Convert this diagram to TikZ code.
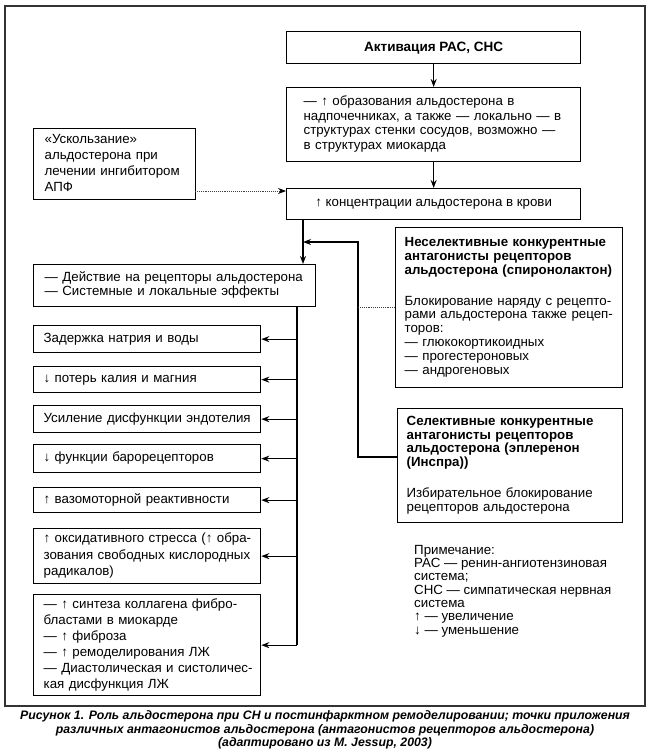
\documentclass[tikz,border=0pt]{standalone}
\usepackage{fontspec}
\setmainfont{Liberation Sans}
\usetikzlibrary{arrows.meta}
\newcommand\tabtext[1]{\begin{tabular}{@{}l@{}}#1\end{tabular}}
\begin{document}
\begin{tikzpicture}[x=1pt,y=-1pt,
  box/.style={draw=black, line width=1.3pt, rectangle, anchor=north west, inner sep=0pt, align=left},
  txt/.style={font=\fontsize{13.3}{14.5}\selectfont},
  ln/.style={line width=1.3pt, black},
  arr/.style={ln, -{Stealth[length=8pt,width=6pt]}},
  dotln/.style={line width=0.9pt, black!75, densely dotted},
  dotarr/.style={dotln, -{Stealth[length=8pt,width=6pt,black]}},
  frame/.style={line width=2pt, black!80}]
\useasboundingbox (0,0) rectangle (650,754);
\draw[frame] (5,6) rectangle (645,706);

\node[box, minimum width=294pt, minimum height=32pt, align=center, font=\fontsize{13.5}{15}\selectfont\bfseries] (act) at (286,31) {Активация РАС, СНС};
\node[box, minimum width=294pt, minimum height=74pt, text width=260pt, txt] (form) at (286,87)
  {\tabtext{— ↑ образования альдостерона в\\надпочечниках, а также — локально — в\\структурах стенки сосудов, возможно —\\в структурах миокарда}};
\node[box, minimum width=294pt, minimum height=31pt, align=center, txt] (conc) at (286,188) {↑ концентрации альдостерона в крови};
\node[box, minimum width=162pt, minimum height=71pt, text width=140pt, font=\fontsize{13.3}{16}\selectfont] (esc) at (33,128)
  {\tabtext{«Ускользание»\\альдостерона при\\лечении ингибитором\\АПФ}};
\node[box, minimum width=282pt, minimum height=42pt, text width=260pt, txt] (eff) at (33,264)
  {\tabtext{— Действие на рецепторы альдостерона\\— Системные и локальные эффекты}};

\node[box, minimum width=227pt, minimum height=27pt, text width=207pt, txt] (b1) at (33,325) {\tabtext{Задержка натрия и воды}};
\node[box, minimum width=227pt, minimum height=26pt, text width=207pt, txt] (b2) at (33,366) {\tabtext{↓ потерь калия и магния}};
\node[box, minimum width=227pt, minimum height=27pt, text width=207pt, txt] (b3) at (33,405) {\tabtext{Усиление дисфункции эндотелия}};
\node[box, minimum width=227pt, minimum height=28pt, text width=207pt, txt] (b4) at (33,444) {\tabtext{↓ функции барорецепторов}};
\node[box, minimum width=227pt, minimum height=25pt, text width=207pt, txt] (b5) at (33,487) {\tabtext{↑ вазомоторной реактивности}};
\node[box, minimum width=227pt, minimum height=55pt, text width=207pt, font=\fontsize{13.3}{16.5}\selectfont] (b6) at (33,528)
  {\tabtext{↑ оксидативного стресса (↑ обра-\\зования свободных кислородных\\радикалов)}};
\node[box, minimum width=227pt, minimum height=101pt, text width=207pt, font=\fontsize{13.3}{16}\selectfont] (b7) at (33,594)
  {\tabtext{— ↑ синтеза коллагена фибро-\\бластами в миокарде\\— ↑ фиброза\\— ↑ ремоделирования ЛЖ\\— Диастолическая и систоличес-\\кая дисфункция ЛЖ}};

\node[box, minimum width=227pt, minimum height=160pt, text width=209pt, font=\fontsize{13.3}{13.8}\selectfont] (nsel) at (395,227)
  {\tabtext{\textbf{Неселективные конкурентные}\\\textbf{антагонисты рецепторов}\\\textbf{альдостерона (спиронолактон)}\\[17pt]Блокирование наряду с рецепто-\\рами альдостерона также рецеп-\\торов:\\— глюкокортикоидных\\— прогестероновых\\— андрогеновых}};
\node[box, minimum width=225pt, minimum height=114pt, text width=207pt, font=\fontsize{13.3}{13.8}\selectfont] (sel) at (397,408)
  {\tabtext{\textbf{Селективные конкурентные}\\\textbf{антагонисты рецепторов}\\\textbf{альдостерона (эплеренон}\\\textbf{(Инспра))}\\[17pt]Избирательное блокирование\\рецепторов альдостерона}};

\node[anchor=north west, inner sep=0pt, align=left, font=\fontsize{13.3}{13.3}\selectfont] (note) at (414,545)
  {Примечание:\\РАС — ренин-ангиотензиновая\\система;\\СНС — симпатическая нервная\\система\\↑ — увеличение\\↓ — уменьшение};

\node[inner sep=0pt, align=center, font=\fontsize{12.3}{13.5}\selectfont\bfseries\itshape] (cap) at (325,730)
  {Рисунок 1. Роль альдостерона при СН и постинфарктном ремоделировании; точки приложения\\различных антагонистов альдостерона (антагонистов рецепторов альдостерона)\\(адаптировано из M. Jessup, 2003)};

\coordinate (tr) at (297,0);
\coordinate (j1) at (303,0);
\coordinate (fb) at (358,242);
\coordinate (sp) at (358,457);
\coordinate (ea) at (195,191);

\draw[arr] (act) -- (form);
\draw[arr] (form) -- (conc);
\draw[dotarr] (ea) -- (ea -| conc.west);
\draw[arr] (conc.south -| j1) -- (eff.north -| j1);
\draw[ln] (eff.south -| tr) -- (b7.east -| tr);
\foreach \b in {b1,b2,b3,b4,b5,b6,b7} \draw[arr] (\b.east -| tr) -- (\b.east);
\draw[arr] (sp -| sel.west) -- (sp) -- (fb) -- (fb -| j1);
\draw[dotln] (nsel.west) -- (nsel.west -| fb);
\end{tikzpicture}
\end{document}
